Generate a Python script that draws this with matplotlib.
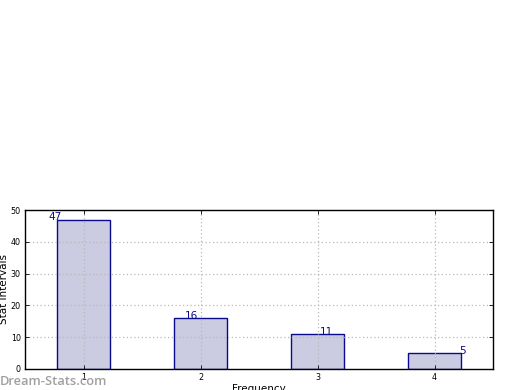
import matplotlib
matplotlib.use("Agg")
import matplotlib.pyplot as plt

categories = [1, 2, 3, 4]
values = [47, 16, 11, 5]
label_texts = ["47", "16", "11", "5"]
yticks = [0, 10, 20, 30, 40, 50]

fig = plt.figure(figsize=(5.2, 3.9), dpi=100)
ax = fig.add_axes([25/520, 1 - 369/390, 468/520, 159/390])

ax.bar(categories, values, width=0.45, color="#cbcbe2", edgecolor="#0a0a8c",
       linewidth=1.0, zorder=2)

offsets = [-0.24, -0.08, 0.08, 0.24]
for c, v, t, o in zip(categories, values, label_texts, offsets):
    ax.text(c + o, v - 0.9, t, ha="center", va="bottom", color="#0a0a8c",
            fontsize=7.5, zorder=4)

ax.set_xlim(0.5, 4.5)
ax.set_ylim(0, 50)
ax.set_xticks(categories)
ax.set_yticks(yticks)
ax.tick_params(axis="both", direction="in", top=True, right=True,
               labelsize=5.8, length=3, width=0.6, pad=3)
ax.grid(True, linestyle=(0, (1, 2)), color="#b8b8b8", linewidth=0.9, zorder=3)
ax.set_axisbelow(False)
for s in ax.spines.values():
    s.set_linewidth(1.0)
    s.set_color("black")
    s.set_zorder(5)

ax.set_ylabel("Stat Intervals", fontsize=7.5, labelpad=1)
ax.yaxis.set_label_coords(-16/468, 0.5)
ax.set_xlabel("Frequency", fontsize=7.5)
ax.xaxis.set_label_coords(0.5, -15/159)
ax.xaxis.label.set_va("top")

fig.text(0.0, 2/390, "Dream-Stats.com", fontsize=9.3, color="#a0a0a0",
         family="Open Sans", fontweight="semibold", ha="left", va="bottom",
         zorder=6)

fig.savefig("out.png", dpi=100)
